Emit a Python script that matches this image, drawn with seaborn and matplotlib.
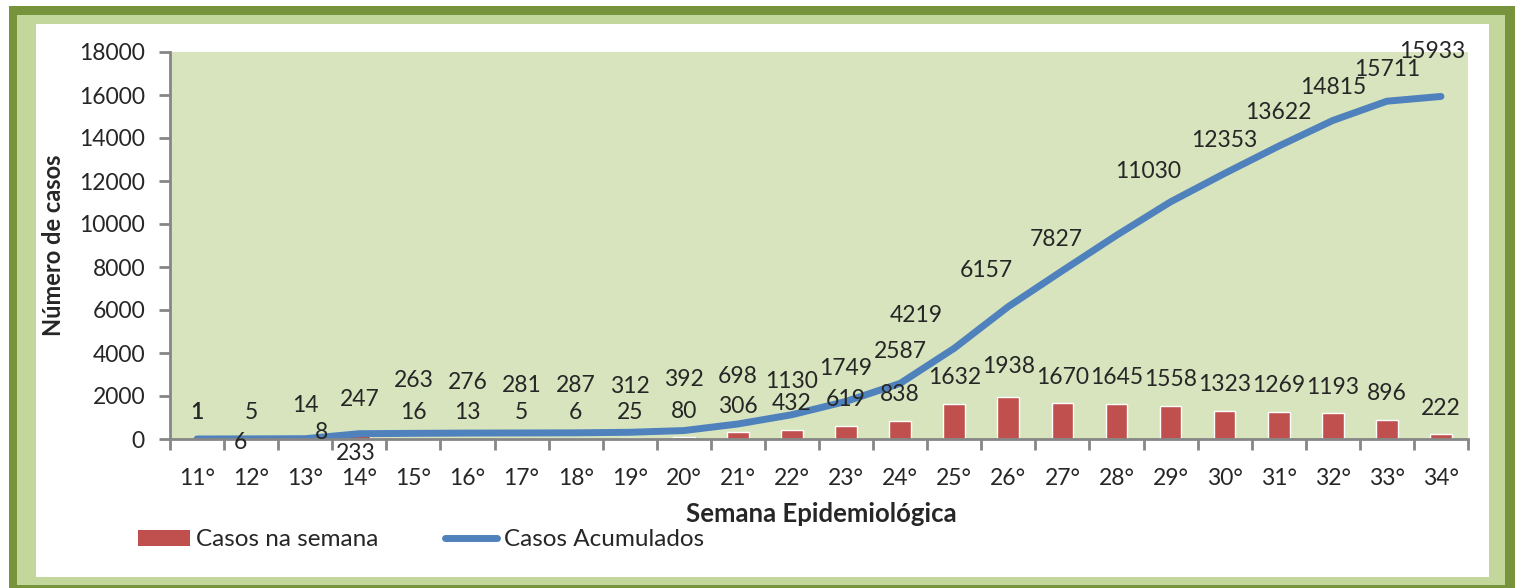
import numpy as np
import pandas as pd
import matplotlib.pyplot as plt
import seaborn as sns
from matplotlib.patches import Rectangle, Patch
from matplotlib.lines import Line2D

# Dados
semanas = ['11°', '12°', '13°', '14°', '15°', '16°', '17°', '18°', '19°', '20°', '21°', '22°',
           '23°', '24°', '25°', '26°', '27°', '28°', '29°', '30°', '31°', '32°', '33°', '34°']
casos_semana = [1, 5, 8, 233, 16, 13, 5, 6, 25, 80, 306, 432,
                619, 838, 1632, 1938, 1670, 1645, 1558, 1323, 1269, 1193, 896, 222]
casos_acumulados = [1, 6, 14, 247, 263, 276, 281, 287, 312, 392, 698, 1130,
                    1749, 2587, 4219, 6157, 7827, 9472, 11030, 12353, 13622, 14815, 15711, 15933]
sem_rotulo_acum = ['28°']  # rótulo ausente no original

# deslocamento dos rótulos (pixels)
sem_dx = [0, 0, 16, -4, 0, 0, 0, 0, 0, 0, 0, 0, 0, 0, 0, 0, 0, 0, 0, 0, 0, 0, 0, 0]
sem_dy = [26, 26, 6, -20, 26, 26, 26, 26, 26, 26, 26, 26, 26, 26, 26, 31, 26, 26, 26, 26, 26, 26, 26, 26]
acum_dx = [0, -11, 0, 0, 0, 0, 0, 0, 0, 0, 0, 0, 0, 0, -38, -22, -6, 0, -22, 0, 0, 0, 0, -9]
acum_dy = [26, -4, 33, 34, 53, 51, 47, 47, 46, 51, 47, 33, 33, 32, 33, 36, 31, 33, 30, 33, 34, 33, 32, 45]

df = pd.DataFrame({'semana': semanas, 'casos_semana': casos_semana,
                   'casos_acumulados': casos_acumulados})

sns.set_style('white')
plt.rcParams['font.family'] = ['Lato', 'DejaVu Sans']

W, H = 1523, 588
fig = plt.figure(figsize=(W / 100, H / 100), dpi=100)

# moldura verde
def ret(x0, y0, x1, y1, cor):
    fig.add_artist(Rectangle((x0 / W, 1 - y1 / H), (x1 - x0) / W, (y1 - y0) / H,
                             transform=fig.transFigure, facecolor=cor, edgecolor='none', zorder=-10))

ret(9, 6, 1515, 590, '#77933C')
ret(17, 15, 1505, 585, '#C3D69B')
ret(36, 24, 1489, 577, 'white')

ax = fig.add_axes([170 / W, 1 - 439 / H, (1468 - 170) / W, (439 - 52) / H])
ax.set_facecolor('#D7E4BD')

sns.barplot(data=df, x='semana', y='casos_semana', color='#C0504D', saturation=1,
            width=0.4, ax=ax)
sns.lineplot(x=np.arange(len(df)), y=df['casos_acumulados'], color='#4F81BD', lw=5,
             solid_capstyle='round', ax=ax)

# rótulos de dados
for i, v in enumerate(casos_semana):
    ax.annotate(str(v), (i, v), xytext=(sem_dx[i], sem_dy[i]), textcoords='offset pixels',
                ha='center', va='center', fontsize=16.5)
for i, v in enumerate(casos_acumulados):
    if semanas[i] in sem_rotulo_acum:
        continue
    ax.annotate(str(v), (i, v), xytext=(acum_dx[i], acum_dy[i]), textcoords='offset pixels',
                ha='center', va='center', fontsize=16.5)

ax.set_xlim(-0.5, len(semanas) - 0.5)
ax.set_ylim(0, 18000)
ax.set_yticks(np.arange(0, 18001, 2000))
ax.set_xticks(np.arange(len(semanas)))
ax.set_xticklabels(semanas)
ax.set_xticks(np.arange(-0.5, len(semanas)), minor=True)

ax.tick_params(axis='y', which='major', length=8, width=2, color='#868686', pad=10,
               labelsize=16.5, left=True, direction='out')
ax.tick_params(axis='x', which='major', length=0, pad=21, labelsize=16.5)
ax.tick_params(axis='x', which='minor', length=8, width=2, color='#868686',
               bottom=True, direction='out')

for s in ['top', 'right']:
    ax.spines[s].set_visible(False)
for s in ['left', 'bottom']:
    ax.spines[s].set_color('#868686')
    ax.spines[s].set_linewidth(2)

ax.set_xlabel('Semana Epidemiológica', fontsize=18.5, fontweight='bold')
ax.set_ylabel('Número de casos', fontsize=17, fontweight='bold')
ax.xaxis.set_label_coords(0.5015, -0.162)
ax.yaxis.set_label_coords(-0.081, 0.5)

handles = [Patch(facecolor='#C0504D', edgecolor='none'),
           Line2D([0], [0], color='#4F81BD', lw=5, solid_capstyle='round')]
fig.legend(handles, ['Casos na semana', 'Casos Acumulados'], loc='center left',
           bbox_to_anchor=(126 / W, 1 - 540 / H), ncol=2, frameon=False, fontsize=17.5,
           borderpad=0, handlelength=2.14, handleheight=0.6, handletextpad=0.25,
           columnspacing=2.75)

fig.savefig('out.png', dpi=100)
